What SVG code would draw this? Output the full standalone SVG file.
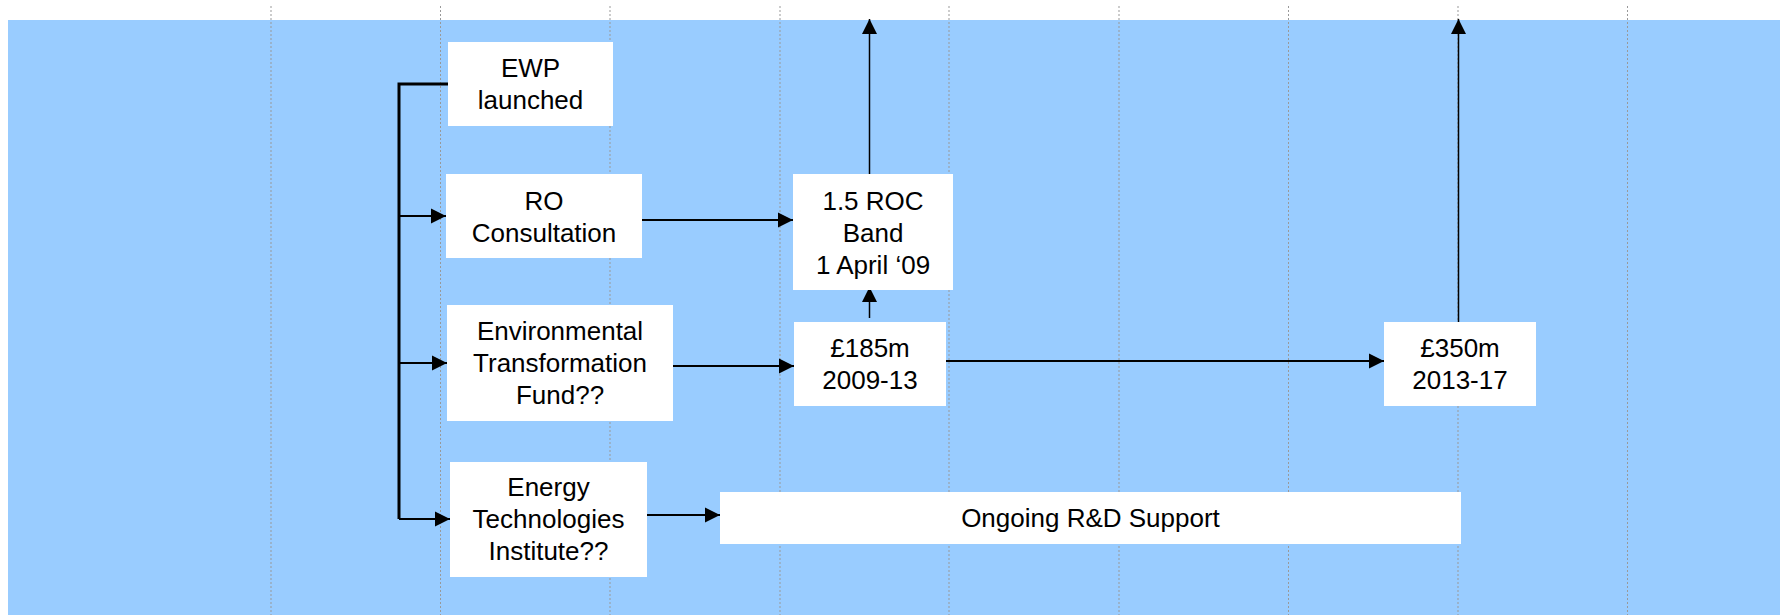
<svg xmlns="http://www.w3.org/2000/svg" width="1780" height="615" viewBox="0 0 1780 615">
<style>
.box{fill:#ffffff;stroke:none}
.t{font-family:"Liberation Sans",Arial,sans-serif;font-size:26px;fill:#000;text-anchor:middle}
.grid{stroke:#999999;stroke-width:1;stroke-dasharray:2 2}
.c{stroke:#000;stroke-width:2;fill:none}
.cu{stroke:#000;stroke-width:1.5;fill:none}
</style>
<defs>
<marker id="ah" markerUnits="userSpaceOnUse" markerWidth="16" markerHeight="16" refX="15" refY="8" orient="auto" viewBox="0 0 16 16">
<path d="M0,0.5 L15,8 L0,15.5 z" fill="#000"/>
</marker>
</defs>
<rect x="0" y="0" width="1780" height="615" fill="#ffffff"/>
<rect x="8" y="20" width="1772" height="595" fill="#99ccff"/>
<g id="grid">
<line class="grid" x1="271" y1="6" x2="271" y2="615"/>
<line class="grid" x1="440.5" y1="6" x2="440.5" y2="615"/>
<line class="grid" x1="610" y1="6" x2="610" y2="615"/>
<line class="grid" x1="780" y1="6" x2="780" y2="615"/>
<line class="grid" x1="949" y1="6" x2="949" y2="615"/>
<line class="grid" x1="1119" y1="6" x2="1119" y2="615"/>
<line class="grid" x1="1288.5" y1="6" x2="1288.5" y2="615"/>
<line class="grid" x1="1458" y1="6" x2="1458" y2="615"/>
<line class="grid" x1="1627.5" y1="6" x2="1627.5" y2="615"/>
</g>
<g id="connectors">
<polyline points="448,84 399,84 399,519" class="c" style="stroke-width:3"/>
<line class="c" x1="399" y1="216" x2="446" y2="216" marker-end="url(#ah)"/>
<line class="c" x1="399" y1="363" x2="447" y2="363" marker-end="url(#ah)"/>
<line class="c" x1="399" y1="519" x2="450" y2="519" marker-end="url(#ah)"/>
<line class="c" x1="642" y1="220" x2="793" y2="220" marker-end="url(#ah)"/>
<line class="c" x1="673" y1="366" x2="794" y2="366" marker-end="url(#ah)"/>
<line class="c" x1="946" y1="361" x2="1384" y2="361" marker-end="url(#ah)"/>
<line class="c" x1="645" y1="515" x2="720" y2="515" marker-end="url(#ah)"/>
<line class="cu" x1="869.5" y1="174" x2="869.5" y2="19" marker-end="url(#ah)"/>
<line class="cu" x1="869.5" y1="318" x2="869.5" y2="287" marker-end="url(#ah)"/>
<line class="cu" x1="1458.5" y1="322" x2="1458.5" y2="19" marker-end="url(#ah)"/>
</g>
<g id="ewp">
<rect class="box" x="448" y="42" width="165" height="84"/>
<text class="t" x="530.5" y="77">EWP</text>
<text class="t" x="530.5" y="109">launched</text>
</g>
<g id="ro">
<rect class="box" x="446" y="174" width="196" height="84"/>
<text class="t" x="544" y="210">RO</text>
<text class="t" x="544" y="242">Consultation</text>
</g>
<g id="roc">
<rect class="box" x="793" y="174" width="160" height="116"/>
<text class="t" x="873" y="210">1.5 ROC</text>
<text class="t" x="873" y="242">Band</text>
<text class="t" x="873" y="274">1 April ‘09</text>
</g>
<g id="etf">
<rect class="box" x="447" y="305" width="226" height="116"/>
<text class="t" x="560" y="340">Environmental</text>
<text class="t" x="560" y="372">Transformation</text>
<text class="t" x="560" y="404">Fund??</text>
</g>
<g id="f185">
<rect class="box" x="794" y="322" width="152" height="84"/>
<text class="t" x="870" y="357">£185m</text>
<text class="t" x="870" y="389">2009-13</text>
</g>
<g id="f350">
<rect class="box" x="1384" y="322" width="152" height="84"/>
<text class="t" x="1460" y="357">£350m</text>
<text class="t" x="1460" y="389">2013-17</text>
</g>
<g id="eti">
<rect class="box" x="450" y="462" width="197" height="115"/>
<text class="t" x="548.5" y="496">Energy</text>
<text class="t" x="548.5" y="528">Technologies</text>
<text class="t" x="548.5" y="560">Institute??</text>
</g>
<g id="ongoing">
<rect class="box" x="720" y="492" width="741" height="52"/>
<text class="t" x="1090.5" y="527">Ongoing R&amp;D Support</text>
</g>
</svg>
